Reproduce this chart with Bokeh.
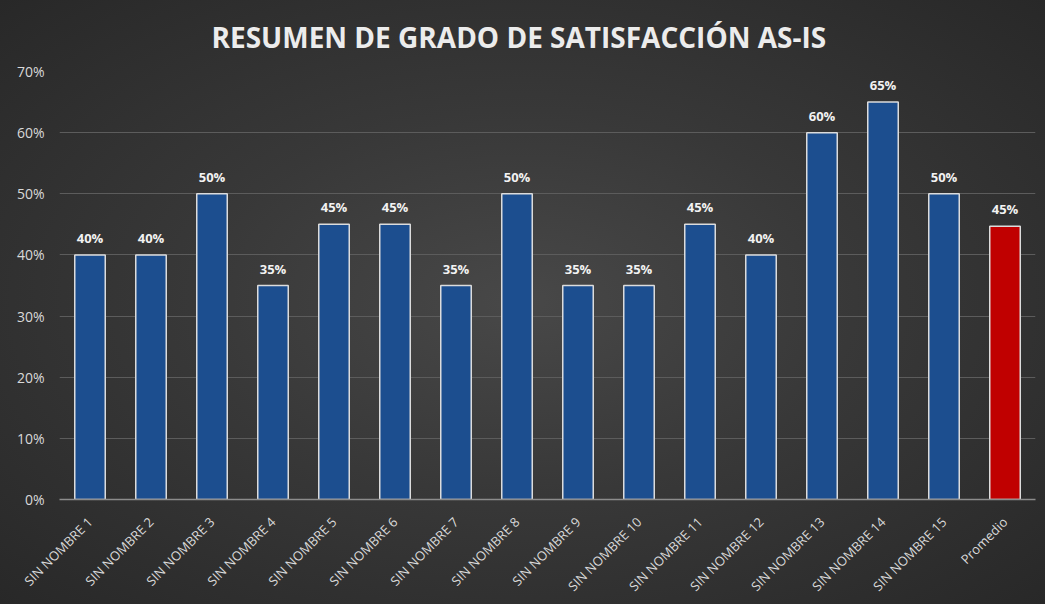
from bokeh.plotting import figure
from bokeh.models import (ColumnDataSource, FactorRange, Range1d, FixedTicker,
                          NumeralTickFormatter, LabelSet, InlineStyleSheet)
from bokeh.embed import file_html
from bokeh.resources import INLINE
from bokeh.core.properties import value
import math

# ---- data ----
categories = ["SIN NOMBRE 1", "SIN NOMBRE 2", "SIN NOMBRE 3", "SIN NOMBRE 4",
              "SIN NOMBRE 5", "SIN NOMBRE 6", "SIN NOMBRE 7", "SIN NOMBRE 8",
              "SIN NOMBRE 9", "SIN NOMBRE 10", "SIN NOMBRE 11", "SIN NOMBRE 12",
              "SIN NOMBRE 13", "SIN NOMBRE 14", "SIN NOMBRE 15", "Promedio"]
values = [0.40, 0.40, 0.50, 0.35, 0.45, 0.45, 0.35, 0.50,
          0.35, 0.35, 0.45, 0.40, 0.60, 0.65, 0.50, 0.447]
highlight_category = "Promedio"
y_ticks = [0.0, 0.1, 0.2, 0.3, 0.4, 0.5, 0.6, 0.7]
title_text = "RESUMEN DE GRADO DE SATISFACCIÓN AS-IS"

BLUE = "#1C4E8F"
RED = "#C00000"
FONT = "Open Sans"

colors = [RED if c == highlight_category else BLUE for c in categories]
labels = ["{:.0f}%".format(round(v * 100)) for v in values]

src = ColumnDataSource(dict(cat=categories, val=values, color=colors, label=labels))

p = figure(x_range=FactorRange(*categories), y_range=Range1d(0, 0.7),
           width=1045, height=604, output_backend="svg", toolbar_location=None,
           min_border_left=59, min_border_right=10, min_border_top=71,
           min_border_bottom=103)

p.stylesheets = [InlineStyleSheet(css=":host { background: radial-gradient(ellipse at 50% 50%, #484848 0%, #383838 45%, #282828 100%); }")]
p.background_fill_alpha = 0
p.border_fill_alpha = 0
p.outline_line_color = None

p.title.text = title_text
p.title.align = "left"
p.title.offset = 152
p.title.vertical_align = "top"
p.title.text_font = FONT
p.title.text_font_size = "28px"
p.title.text_font_style = "bold"
p.title.text_color = "#ececec"
p.title.standoff = 28

p.vbar(x="cat", top="val", width=0.5, fill_color="color", line_color="#dcdcdc",
       line_width=1.5, source=src)

p.add_layout(LabelSet(x="cat", y="val", text="label", source=src,
                      text_align="center", text_baseline="bottom", y_offset=8,
                      text_font=value(FONT), text_font_size="13px",
                      text_font_style="bold", text_color="#f2f2f2"))

p.yaxis.ticker = FixedTicker(ticks=y_ticks)
p.yaxis.formatter = NumeralTickFormatter(format="0%")
p.yaxis.axis_line_color = None
p.yaxis.major_tick_line_color = None
p.yaxis.minor_tick_line_color = None
p.yaxis.major_label_standoff = 9
p.yaxis.major_label_text_font = FONT
p.yaxis.major_label_text_font_size = "14px"
p.yaxis.major_label_text_color = "#d9d9d9"

p.xaxis.axis_line_color = "#8c8c8c"
p.xaxis.axis_line_width = 1.5
p.xaxis.major_tick_line_color = None
p.xaxis.minor_tick_line_color = None
p.xaxis.major_label_orientation = math.pi / 4
p.xaxis.major_label_standoff = 14
p.xaxis.major_label_text_font = FONT
p.xaxis.major_label_text_font_size = "13px"
p.xaxis.major_label_text_color = "#d9d9d9"

p.ygrid.ticker = FixedTicker(ticks=y_ticks)
p.ygrid.grid_line_color = "#5c5c5c"
p.ygrid.grid_line_width = 1
p.xgrid.grid_line_color = None

open("out.html", "w").write(file_html(p, INLINE))
